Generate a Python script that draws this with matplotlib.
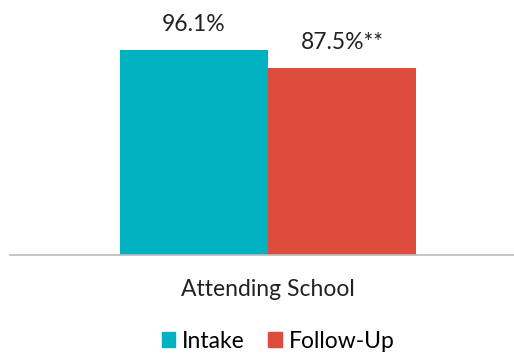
import matplotlib.pyplot as plt
from matplotlib.patches import Patch

plt.rcParams['font.family'] = ['Lato', 'DejaVu Sans']

series = ['Intake', 'Follow-Up']
values = [96.1, 87.5]
labels = ['96.1%', '87.5%**']
category = 'Attending School'
colors = ['#00B2C1', '#DD4B3C']

fig = plt.figure(figsize=(5.14, 3.54), dpi=100)
ax = fig.add_axes([10 / 514, 99 / 354, 504 / 514, 213.3 / 354])

xs = [0, 1]
ax.bar(xs, values, width=1.0, color=colors)
for x, v, t in zip(xs, values, labels):
    ax.text(x, v + 12, t, ha='center', va='center', fontsize=16.5, color='#222222', clip_on=False)

ax.set_xlim(-1.243, 2.162)
ax.set_ylim(0, 100)
for s in ['top', 'left', 'right']:
    ax.spines[s].set_visible(False)
ax.spines['bottom'].set_color('#BBBBBB')
ax.spines['bottom'].set_linewidth(1.2)
ax.set_yticks([])
ax.set_xticks([])

fig.text(268 / 514, 1 - 290 / 354, category, ha='center', va='center', fontsize=16.5, color='#222222')

handles = [Patch(color=c, label=s) for c, s in zip(colors, series)]
fig.legend(handles=handles, loc='center', bbox_to_anchor=(278 / 514, 1 - 341 / 354), ncol=2,
           frameon=False, fontsize=16.5, handlelength=0.6, handleheight=0.6,
           handletextpad=0.3, columnspacing=1.0, borderpad=0)

fig.savefig('out.png', dpi=100)
